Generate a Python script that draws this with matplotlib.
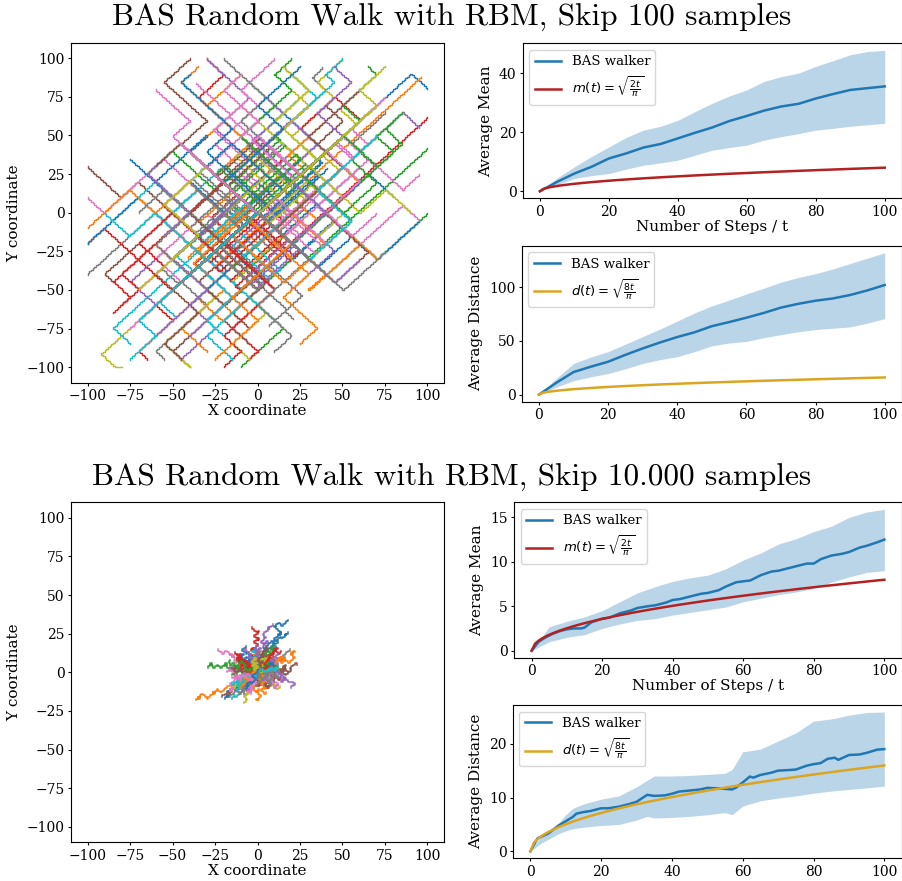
import numpy as np
import matplotlib.pyplot as plt

plt.rcParams['font.family'] = 'DejaVu Serif'
plt.rcParams['mathtext.fontset'] = 'dejavusans'
plt.rcParams['xtick.labelsize'] = 10
plt.rcParams['ytick.labelsize'] = 10
plt.rcParams['xtick.major.size'] = 2.5
plt.rcParams['ytick.major.size'] = 2.5
plt.rcParams['xtick.major.pad'] = 2
plt.rcParams['ytick.major.pad'] = 2

# ---- walks, skip 100 samples: corner points of each path ----
top_walks = [
    [(0,0),(90,90),(100,80)], [(0,0),(4,-4),(96,88)], [(0,0),(29,-29),(100,42)],
    [(0,0),(19,-19),(100,62)], [(0,0),(50,50),(60,40),(85,65),(95,55)],
    [(0,0),(-20,20),(-45,-5),(-70,20),(-80,10),(-100,30)],
    [(0,0),(-10,-10),(-55,35),(-90,0),(-100,10)], [(0,0),(-30,-30),(-60,0),(-100,-40)],
    [(0,0),(-85,-85),(-92,-92),(-80,-100)], [(0,0),(-5,5),(-85,-75),(-75,-85)],
    [(0,0),(20,20),(45,-5),(5,-45),(-10,-30)], [(0,0),(-15,-15),(10,-40),(-20,-70),(-35,-55),(-48,-68)],
    [(0,0),(30,-30),(50,-10),(70,-30),(100,0)], [(0,0),(-25,25),(-5,45),(-35,75),(-20,90),(-30,100)],
    [(0,0),(15,15),(-25,55),(-5,75),(-30,100)], [(0,0),(-45,45),(-30,60),(-55,85),(-40,100)],
    [(0,0),(10,10),(-25,45),(0,70),(-10,80),(10,100)], [(0,0),(25,25),(5,45),(40,80),(32,88),(38,94)],
    [(0,0),(35,35),(20,50),(45,75),(35,85),(50,100)], [(0,0),(-10,-10),(25,25),(0,50),(25,75)],
    [(0,0),(40,-40),(60,-20),(70,-30),(90,-10),(95,-5)], [(0,0),(-40,40),(-20,60),(-45,85),(-35,95)],
    [(0,0),(25,-25),(-5,-55),(15,-75),(-10,-100)], [(0,0),(-20,-20),(10,-50),(-15,-75),(0,-90),(-5,-95)],
    [(0,0),(10,-10),(-40,-60),(-25,-75),(-45,-95)], [(0,0),(-35,-35),(-15,-55),(-50,-90),(-40,-100)],
    [(0,0),(25,-25),(45,-5),(60,-20),(85,5),(95,-5)], [(0,0),(30,30),(15,45),(-20,10),(-5,-5),(-25,-25)],
    [(0,0),(-25,-25),(-10,-40),(30,0),(15,15),(30,30)], [(0,0),(20,-20),(45,5),(25,25),(0,0),(-15,15)],
    [(0,0),(-30,-30),(-10,-50),(20,-20),(0,0),(25,25)], [(0,0),(15,15),(35,-5),(60,20),(40,40),(55,55)],
    [(0,0),(-20,20),(-40,0),(-20,-20),(-40,-40),(-25,-55)], [(0,0),(40,40),(25,55),(45,75),(60,60),(70,70)],
    [(0,0),(-40,-40),(-55,-25),(-75,-45),(-60,-60),(-70,-70)], [(0,0),(10,-10),(35,15),(20,30),(50,60),(40,70)],
    [(0,0),(-15,-15),(-30,0),(-60,-30),(-45,-45),(-75,-75)], [(0,0),(25,25),(45,5),(70,30),(55,45),(75,65)],
    [(0,0),(-10,10),(20,40),(5,55),(30,80),(15,95)], [(0,0),(5,5),(-20,30),(-45,5),(-60,20),(-85,-5)],
    [(0,0),(-5,-5),(20,-30),(45,-5),(35,5),(60,30)], [(0,0),(-35,-35),(-20,-50),(-45,-75),(-30,-90)],
    [(0,0),(20,20),(0,40),(-25,15),(-50,40),(-65,25)], [(0,0),(-20,-20),(-5,-35),(25,-5),(10,10),(35,35)],
    [(0,0),(30,30),(50,10),(30,-10),(45,-25),(20,-50)], [(0,0),(-10,-10),(-35,15),(-60,-10),(-90,-40),(-85,-45)],
    [(0,0),(45,45),(55,35),(65,45),(55,55),(75,75)], [(0,0),(-45,-45),(-30,-60),(-60,-90),(-55,-95)],
    [(0,0),(15,-15),(-15,-45),(5,-65),(-15,-85),(-5,-95)], [(0,0),(-5,5),(25,35),(10,50),(35,75),(20,90)],
    [(0,0),(35,-35),(55,-15),(40,0),(65,25),(80,10)], [(0,0),(-25,25),(-5,45),(-30,70),(-10,90)],
    [(0,0),(20,20),(-10,50),(10,70),(-5,85)], [(0,0),(-30,-30),(-50,-10),(-70,-30),(-90,-10),(-100,-20)],
    [(0,0),(10,10),(-30,-30),(-10,-50),(-40,-80)], [(0,0),(-20,-20),(5,-45),(-20,-70),(-5,-85)],
    [(0,0),(25,25),(40,10),(65,35),(85,15),(95,25)], [(0,0),(-15,15),(10,40),(-10,60),(5,75),(-20,100)],
    [(0,0),(-40,-40),(-25,-55),(-55,-85),(-40,-100)], [(0,0),(40,40),(20,60),(45,85),(40,90),(50,100)],
    [(0,0),(10,10),(0,20),(15,35),(5,45),(20,60),(10,70)], [(0,0),(-10,-10),(0,-20),(-15,-35),(-5,-45),(-20,-60),(-10,-70)],
    [(0,0),(12,-12),(27,3),(17,13),(37,33),(27,43)], [(0,0),(-12,12),(-27,-3),(-17,-13),(-37,-33),(-27,-43)],
    [(0,0),(20,20),(10,30),(30,50),(20,60),(0,40),(-10,50)], [(0,0),(-20,-20),(-10,-30),(-30,-50),(-20,-60),(0,-40),(10,-50)],
    [(0,0),(5,5),(25,-15),(40,0),(30,10),(50,30)], [(0,0),(-5,-5),(-25,15),(-40,0),(-30,-10),(-50,-30)],
    [(0,0),(30,30),(40,20),(20,0),(35,-15),(55,5)], [(0,0),(-30,-30),(-40,-20),(-20,0),(-35,15),(-55,-5)],
    [(0,0),(-20,20),(-50,-10),(-70,10),(-100,-20)], [(0,0),(-10,-10),(-40,20),(-60,0),(-75,15),(-100,-10)],
    [(0,0),(15,15),(5,25),(-15,5),(-5,-5),(-25,-25),(-15,-35),(5,-15),(-5,-5)],
    [(0,0),(-15,-15),(-5,-25),(15,-5),(5,5),(25,25),(15,35),(-5,15),(5,5)],
    [(0,0),(20,-20),(30,-10),(10,10),(20,20),(0,40),(10,50)], [(0,0),(-20,20),(-30,10),(-10,-10),(-20,-20),(0,-40),(-10,-50)],
    [(0,0),(8,8),(-12,28),(3,43),(-17,63),(-7,73)], [(0,0),(-8,-8),(12,-28),(-3,-43),(17,-63),(7,-73)],
    [(0,0),(18,18),(28,8),(48,28),(38,38),(58,58),(48,68)], [(0,0),(-18,-18),(-28,-8),(-48,-28),(-38,-38),(-58,-58),(-48,-68)],
    [(0,0),(-6,6),(14,26),(24,16),(4,-4),(14,-14),(34,6)], [(0,0),(6,-6),(-14,-26),(-24,-16),(-4,4),(-14,14),(-34,-6)],
    [(0,0),(25,25),(35,15),(10,-10),(20,-20),(45,5),(55,-5)], [(0,0),(-25,-25),(-35,-15),(-10,10),(-20,20),(-45,-5),(-55,5)],
    [(0,0),(10,-10),(30,10),(15,25),(35,45),(20,60),(30,70)], [(0,0),(-10,10),(-30,-10),(-15,-25),(-35,-45),(-20,-60),(-30,-70)],
    [(0,0),(4,4),(-16,24),(-6,34),(-26,54),(-16,64),(-36,84)], [(0,0),(-4,-4),(16,-24),(6,-34),(26,-54),(16,-64),(21,-69)],
    [(0,0),(30,30),(10,50),(30,70),(20,80)], [(0,0),(-30,-30),(-10,-50),(-30,-70),(-20,-80)],
    [(0,0),(12,12),(2,22),(-18,2),(-8,-8),(-28,-28),(-18,-38),(-38,-58)],
    [(0,0),(-12,-12),(-2,-22),(18,-2),(8,8),(28,28),(18,38),(38,58)],
    [(0,0),(20,20),(30,10),(50,30),(60,20),(80,40),(70,50)], [(0,0),(-20,-20),(-30,-10),(-50,-30),(-60,-20),(-80,-40),(-70,-50)],
    [(0,0),(-10,10),(10,30),(-5,45),(15,65),(5,75)], [(0,0),(10,-10),(-10,-30),(5,-45),(-15,-65),(-5,-75)],
    [(0,0),(6,6),(16,-4),(36,16),(26,26),(46,46),(56,36)], [(0,0),(-6,-6),(-16,4),(-36,-16),(-26,-26),(-46,-46),(-56,-36)],
    [(0,0),(15,15),(-5,35),(10,50),(-10,70)], [(0,0),(-15,-15),(5,-35),(-10,-50),(10,-70)],
    # hairpin sweeps through the centre
    [(0,0),(30,30),(33,27),(3,-3),(6,-6),(36,24)], [(0,0),(-30,-30),(-33,-27),(-3,3),(-6,6),(-36,-24)],
    [(0,0),(-25,25),(-22,28),(3,3),(6,6),(-19,31)], [(0,0),(25,-25),(22,-28),(-3,-3),(-6,-6),(19,-31)],
    [(0,0),(10,10),(-20,-20),(-17,-23),(13,7),(16,4),(-14,-26)], [(0,0),(-10,-10),(20,20),(17,23),(-13,-7),(-16,-4),(14,26)],
    [(0,0),(15,-15),(40,10),(37,13),(12,-12),(9,-9),(34,16)], [(0,0),(-15,15),(-40,-10),(-37,-13),(-12,12),(-9,9),(-34,-16)],
    [(0,0),(20,20),(15,25),(-15,-5),(-20,0),(10,30)], [(0,0),(-20,-20),(-15,-25),(15,5),(20,0),(-10,-30)],
    [(0,0),(5,-5),(35,25),(30,30),(0,0),(-5,5),(25,35)], [(0,0),(-5,5),(-35,-25),(-30,-30),(0,0),(5,-5),(-25,-35)],
    [(0,0),(-20,20),(10,50),(13,47),(-17,17),(-14,14),(16,44)], [(0,0),(20,-20),(-10,-50),(-13,-47),(17,-17),(14,-14),(-16,-44)],
    [(0,0),(25,25),(0,50),(-3,47),(22,22),(19,19),(-6,44)], [(0,0),(-25,-25),(0,-50),(3,-47),(-22,-22),(-19,-19),(6,-44)],
    [(0,0),(30,-30),(34,-26),(4,4),(8,8),(38,-22)], [(0,0),(-30,30),(-34,26),(-4,-4),(-8,-8),(-38,22)],
    [(0,0),(12,12),(-13,37),(-10,40),(15,15),(18,18),(-7,43)], [(0,0),(-12,-12),(13,-37),(10,-40),(-15,-15),(-18,-18),(7,-43)],
    [(0,0),(35,35),(38,32),(8,2),(11,-1),(41,29)], [(0,0),(-35,-35),(-38,-32),(-8,-2),(-11,1),(-41,-29)],
    [(0,0),(-8,8),(22,38),(25,35),(-5,5),(-2,2),(28,32)], [(0,0),(8,-8),(-22,-38),(-25,-35),(5,-5),(2,-2),(-28,-32)],
    [(0,0),(18,-18),(-7,-43),(-4,-46),(21,-21),(24,-24),(-1,-49)], [(0,0),(-18,18),(7,43),(4,46),(-21,21),(-24,24),(1,49)],
    [(0,0),(22,22),(-3,47),(0,50),(25,25),(28,22),(3,47)], [(0,0),(-22,-22),(3,-47),(0,-50),(-25,-25),(-28,-22),(-3,-47)],
    [(0,0),(10,-10),(35,15),(32,18),(7,-7),(4,-4),(29,21)], [(0,0),(-10,10),(-35,-15),(-32,-18),(-7,7),(-4,4),(-29,-21)],
    # mid-range walks
    [(0,0),(-40,40),(-30,50),(-60,20),(-50,10),(-75,35)], [(0,0),(40,-40),(30,-50),(60,-20),(50,-10),(70,-30)],
    [(0,0),(20,20),(-10,50),(20,80),(10,90),(20,100)], [(0,0),(-20,-20),(10,-50),(-20,-80),(-10,-90),(-20,-100)],
    [(0,0),(50,50),(35,65),(55,85),(45,95)], [(0,0),(-50,-50),(-35,-65),(-55,-85),(-45,-95)],
    [(0,0),(-30,30),(0,60),(-20,80),(-10,90)], [(0,0),(30,-30),(0,-60),(20,-80),(10,-90)],
    [(0,0),(30,30),(60,0),(75,15),(90,0)], [(0,0),(-30,-30),(-60,0),(-75,-15),(-90,0)],
    [(0,0),(15,15),(-15,45),(-40,20),(-20,0),(-45,-25)], [(0,0),(-15,-15),(15,-45),(40,-20),(20,0),(45,25)],
    [(0,0),(25,25),(50,0),(70,20),(55,35),(80,60)], [(0,0),(-25,-25),(-50,0),(-70,-20),(-55,-35),(-80,-60)],
    [(0,0),(-45,45),(-65,25),(-40,0),(-55,-15)], [(0,0),(45,-45),(65,-25),(40,0),(55,15)],
    [(0,0),(10,10),(40,-20),(55,-5),(35,15),(60,40),(50,50)], [(0,0),(-10,-10),(-40,20),(-55,5),(-35,-15),(-60,-40),(-50,-50)],
    [(0,0),(35,35),(10,60),(30,80),(15,95)], [(0,0),(-35,-35),(-10,-60),(-30,-80),(-15,-95)],
    [(0,0),(-20,20),(15,55),(0,70),(25,95)], [(0,0),(20,-20),(-15,-55),(0,-70),(-25,-95)],
    [(0,0),(60,60),(50,70),(70,90),(65,95)], [(0,0),(-60,-60),(-50,-70),(-70,-90),(-65,-95)],
    [(0,0),(-10,10),(-50,-30),(-30,-50),(-60,-80)], [(0,0),(10,-10),(50,30),(30,50),(60,80)],
    [(0,0),(40,40),(60,20),(40,0),(55,-15),(70,0)], [(0,0),(-40,-40),(-60,-20),(-40,0),(-55,15),(-70,0)],
    [(0,0),(-30,30),(-55,5),(-35,-15),(-70,-50)], [(0,0),(30,-30),(55,-5),(35,15),(70,50)],
    [(0,0),(5,5),(-30,40),(-15,55),(-45,85),(-40,90)], [(0,0),(-5,-5),(30,-40),(15,-55),(35,-75),(25,-85)],
    [(0,0),(50,50),(70,30),(85,45),(75,55),(85,65)], [(0,0),(-50,-50),(-70,-30),(-85,-45),(-75,-55),(-85,-65)],
    [(0,0),(20,20),(40,0),(20,-20),(45,-45),(60,-30)], [(0,0),(-20,-20),(-40,0),(-20,20),(-45,45),(-60,30)],
    [(0,0),(-25,25),(-50,50),(-40,60),(-60,80)], [(0,0),(25,-25),(50,-50),(60,-40),(75,-25)],
    [(0,0),(70,70),(60,80),(75,95)], [(0,0),(-70,-70),(-60,-80),(-75,-95)],
]

# ---- walks, skip 10.000 samples: move letter + number of steps ----
# e=NE q=NW z=SW c=SE w=N x=S a=W d=E
bottom_walks = [
    "e3q2c1e4z2q3e2c2e5q1z1e3q2e4c1e3z1e2", "z3q2z4c1z3q2z2a2z4q2z3e1z4q3z3e1z2",
    "q3z2q2e1z3q3c1z2q2z1q3e1z3q2z2q3c1z2", "q2e3q3z1e2q2c1e3q3z2e4q2e2c1q3e3z1q3",
    "e2q3e3z1q2e4c1e2q3e3z2q2e3q2e4z1e3", "e3c2e2z1c3e3q1c2e4z2c3e2q1e3c1",
    "q3z2q4e2q3c1z3q2e1q3c2q4z2q3", "e4c2q1e3z2e2c3q2e4z1c1e3q1e4",
    "z3c2q1z4e1c3z2q2z3c2e2z3c2z2", "z3q2c3z2e1z4q2z3c1e2z3c2z2q1z2",
    "z4c1z3q2z2e1z3a2z3q1c2z2e1z2", "c3z2e1z3c2q1z3c2e2z2c3z2q1c1",
    "c2e3z2c3q2e2z3c2e1c2q1z2", "e2c3z1c2e3q1c3z2e2c2q1e1c1",
    "e3c2q1e2z1e3c2e2q2z2e3c2e2", "e2c3e3c2z1e2q1c3e3z2c2e2",
    "q2z3q2e1z2q3c1z3q2e2z2q1z2", "q3z2e2q2z3q2c1z2q3e1z2q1",
    "c3e2c2z2c3e1c2q1z1c2e2", "q2e3q2z2e2q3c1e3q2z1e2",
    "e2q2z3c2e1q3z2c1e2q1z2c2e3q2z1", "z2q1c2z3e2q2z2c1z2e1q1z1c1",
    "e3c2e1q1c2e2z1c1e3q2z1e1", "z2c2e1z2c3q1z2e2c1z1",
    "q2e2z1q1e3c2q2e1z2q1e1", "z3c1e1z2q1z2c2e1z3c1",
    "z2q2z2c1e2z3c2q1z2", "e2q3e2z1q2e2c1q2e3",
    "c2e3c1z1e2c2q1e3c1", "c3e1c2z2e2c2q1c1e1",
    "q3e1q2z2q2e1z2q1c1", "q3e2q2e2z1q2e3c1q1e2",
    "z2q3z2a1q2z3c1q2z1", "z3c1z2q2z3e1c2z2",
    "z4c2z3e1c1z3q1z2c1", "z2c2z3q1e1z2c1z2",
    "e2c2q1e1c2z1c1e1", "e3c1e2q1z1e2c2e2",
    "e3q2e3z1q1e2q1e3c1e2", "e2c2z2q2e1c1z1q1e1",
    "e4q2z2e4c2e2q4z2e2c2e4q2e2z4q2e4c2e2q2e4z2e2q4e2c2e4",
    "e2c4e2q2z2e4c2q2e2z2e4c2e2q2z2e2c4e4q2e2z2",
    "q2e4c2z2e2q2e4z2c2e2q4e2c2z2e4q2e2", "e4z2q2e2c2e4q2z2e2c2e2q2e4z2c2e2",
    "c2e2q2e4z2c2e2q2e2z4e4c2q2e4",
    "z2c1q1z2e1z1c1z2q1a1z1e1z2c1q1z2x1z1q2z1e1z2c1z1q1z2a1z1",
    "z2q4z2c2e2z4q2z2c2z2e2q2z4c2z2e2z2", "c2z4q2z2e2z2c2z4q2e2z2c2z2q2z4",
    "z4e2q2z2c2z2q2z4e2c2z2q2z2e2z2", "q2z2c2z4e2q2z2c2z2e2z4q2c2z2",
    "q4e2z2c2q2e2q2z4c2q2e4q2z2c2q4e2z2q2", "q2c2z2q2e2q2z2c2q4e2z2q2c2z2q2e2q2",
    "z2q4e2q2c2z2q2e2q4z2c2q2e2q2", "q2z2e2q4c2q2z2e2q2c2q4z2e2",
    "c2e2q2c4z2e2c2q2e4c2z2c2e2q2c4z2e2c2d2c2z2", "c2z2e2c2q2z2c2e2z2c4q2e2z2c2e2z2",
    "c4e2z2c2q2e2c2z2c2e2q2c4z2e2", "e2c2z2c2q2c2e2z2c4q2e2c2",
    "e3q2c2z2e3q2z2c2e2q3z2c2e2z2q2e3c3q2e2z2e2q2", "z2c2q2e2z3q2c2z2e2q2z2c3z2q2e2z2c2q2z3e2",
    "e2c2z2q2e2c3e2q2z2e2c2q2e3z2c2e2q2c2", "z2q2e2z2c2z3q2e2c2z2q2z2e2c2z3q2c2z2",
    "e3z2q2e2c2z2e2q2c2e3z2q2c2e2z2e2q2e2", "q2c2z2q2e2q2z2c2q3e2z2q2c2z2q2e2q2",
    "c1z1e1c1q1z1c1e1z1c2q1e1z1c1e1z1", "e1q2z1e1c1q1z1e2q1c1z1q1e1q1z1e1",
    "z2e1c1z1q1z1e1c1z2q1e1z1c1z1q1", "q1e1c1q1z1e1q1c1q1e1z1q2c1e1q1",
    "c1e2q1c1z1e1c1q1e1c1z1e1q1c1e1", "z1c1e1q1z1c1z1e1q1z1c1z1q1e1z1",
    "e1q1e1c1z1q1e1q1c1e1z1q1e1c1q1e1", "q1z1c1q1z1e1q1z1q1c1z1q1e1q1z1",
    "c1z1e1c1z1q1c1e1z1c1q1z1c1e1",
    # walks drifting to the rim of the cloud
    "q3z2q2e2c1q3z2e1q2c1q3e2z1q2", "e2q2c1e2q3z1e2q2e1c1q2e3z2q2e2",
    "q2z3q2e1z2q3c1z2q2e2z2q1", "z3c2q1z2e1c2z3q1c2z2e2z2c1",
    "c2e3z1c2q1e2c3z2e2c2q1e1", "e3q2e2c1z2e3q1e2c1z1e2",
    "z3q2z2e1q1z3c2z2q2e1z3q1", "q3e2q2z1e2q3c1e1q2z1q3e2",
    "c3z2c2e1z2c3q1z2c2e1", "q3z2q3e1q2z3c1q3z1q2e1",
    "e3c1e2q2e3z1e2q1e2c1", "q2e2q3z1e2q2c1q2e1q3z1",
    "e3q2e2z1q2e3c1q2e2z1e3q1", "z3q2z2c1q2z3e1q2z2q1",
    "c2z2e1c2z2q1c1z2", "q2e2z1q2e1c1q2e2z1",
    "e2c2e3c1z1e2c2q1e2", "z3c2z2q1z3e1c1z2",
]

# ---- summary curves ----
t_top = [0, 5, 10, 15, 20, 25, 30, 35, 40, 45, 50, 55, 60, 65, 70, 75, 80, 85, 90, 95, 100]
mean_top = [0, 3.2, 6.0, 8.3, 11.1, 12.8, 14.8, 16.0, 17.9, 19.8, 21.6, 23.8, 25.5, 27.3, 28.7, 29.6, 31.4, 32.9, 34.3, 34.9, 35.5]
mean_top_hi = [0, 4.5, 8.3, 11.8, 15, 18.2, 20.7, 22, 24, 27, 29.8, 32.3, 34.3, 37.2, 38.8, 40, 42.3, 44.2, 46.2, 47.3, 47.7]
mean_top_lo = [0, 2.2, 4.3, 5.3, 6.0, 7.5, 8.8, 9.6, 10.5, 12.2, 13.9, 14.8, 15.6, 17.3, 18.5, 19.5, 20.7, 21.3, 22, 22.5, 23]
dist_top = [0, 11, 21, 26, 30.6, 37, 43, 48.5, 53.6, 58, 63.7, 67.5, 71.6, 76, 81, 84.5, 87.4, 89.5, 92.7, 97, 102]
dist_top_hi = [0, 15, 29, 35, 40, 47, 54, 61, 68.5, 76, 82.6, 88, 93.7, 99, 104.7, 109, 112.6, 117, 122, 127, 132]
dist_top_lo = [0, 7, 13, 16.5, 19.6, 24, 29, 32.5, 35.3, 40, 45.4, 48, 49.5, 53, 55.8, 58.5, 60.5, 61.8, 63, 66.5, 70.7]

t_mean_bot = [0, 2, 4, 6, 8, 10, 12, 14, 15, 17, 20, 22, 25, 28, 30, 33, 35, 38, 40, 42, 45, 48, 50,
              53, 55, 58, 60, 62, 65, 68, 70, 73, 75, 78, 80, 82, 85, 88, 90, 93, 95, 98, 100]
mean_bot = [0, 1.0, 1.5, 1.9, 2.2, 2.4, 2.5, 2.5, 2.6, 3.2, 3.6, 3.7, 4.2, 4.5, 4.8, 5.0, 5.1, 5.4, 5.7, 5.8,
            6.1, 6.4, 6.5, 6.8, 7.2, 7.7, 7.8, 7.9, 8.5, 8.9, 9.0, 9.3, 9.5, 9.8, 9.8, 10.3, 10.7, 10.9,
            11.1, 11.6, 11.8, 12.2, 12.5]
mean_bot_hi = [0, 2.7, 3.3, 3.8, 4.5, 5.5, 6.5, 7.2, 7.8, 8.2, 8.5, 9.2, 10.2, 11, 12, 12.6, 13.4, 14, 15, 15.6, 15.9]
mean_bot_lo = [0, 1.0, 1.5, 1.8, 2.5, 3.0, 3.4, 3.6, 4.0, 4.3, 4.6, 4.9, 5.5, 5.9, 6.3, 6.6, 7.0, 7.7, 8.3, 8.8, 9.0]

t_dist_bot = [0, 2, 5, 8, 10, 12, 13, 15, 17, 20, 22, 25, 28, 30, 33, 35, 38, 40, 42, 45, 48, 50, 53, 55,
              57, 58, 60, 62, 63, 65, 68, 70, 73, 75, 78, 80, 82, 84, 86, 87, 90, 93, 95, 98, 100]
dist_bot = [0, 2.4, 3.3, 4.8, 5.6, 6.4, 7.0, 7.3, 7.5, 8.0, 8.0, 8.3, 8.8, 9.2, 10.5, 10.3, 10.4, 10.7, 11.1,
            11.3, 11.5, 11.8, 11.7, 11.6, 11.5, 11.8, 12.8, 13.9, 13.7, 14.2, 14.6, 15.0, 15.1, 15.2, 15.9,
            16.2, 16.4, 17.2, 17.4, 17.0, 17.9, 18.0, 18.3, 18.9, 19.0]
t_band_bot = [0, 3, 5, 8, 10, 12, 15, 20, 25, 30, 33, 35, 40, 45, 50, 55, 57, 60, 65, 70, 75, 80, 85, 90, 95, 100]
dist_bot_hi = [0, 2.8, 3.8, 5.3, 6.8, 8.0, 8.8, 9.7, 10.3, 12.0, 13.2, 14.0, 14.0, 14.1, 14.3, 14.5, 15.2,
               18.5, 19.0, 20.5, 22.0, 24.2, 24.6, 25.3, 25.8, 25.9]
dist_bot_lo = [0, 1.5, 2.2, 3.3, 3.8, 4.2, 4.5, 4.8, 5.0, 5.8, 6.5, 6.2, 6.3, 6.5, 6.8, 7.2, 6.8, 8.4, 9.4,
               9.9, 10.3, 10.8, 11.2, 11.5, 11.8, 12.1]

MOVES = {'e': (1, 1), 'q': (-1, 1), 'z': (-1, -1), 'c': (1, -1),
         'w': (0, 1), 'x': (0, -1), 'a': (-1, 0), 'd': (1, 0)}


def unit_step(xs, ys, sx, sy):
    # diagonal steps drawn as a small stair: x first, then y
    if sx:
        xs.append(xs[-1] + sx); ys.append(ys[-1])
    if sy:
        xs.append(xs[-1]); ys.append(ys[-1] + sy)


def path_from_corners(corners):
    xs, ys = [corners[0][0]], [corners[0][1]]
    for nx, ny in corners[1:]:
        while xs[-1] != nx or ys[-1] != ny:
            unit_step(xs, ys, int(np.sign(nx - xs[-1])), int(np.sign(ny - ys[-1])))
    return xs, ys


def path_from_moves(code):
    xs, ys = [0], [0]
    i = 0
    while i < len(code):
        m = code[i]
        j = i + 1
        while j < len(code) and code[j].isdigit():
            j += 1
        n = int(code[i + 1:j]) if j > i + 1 else 1
        for _ in range(n):
            unit_step(xs, ys, *MOVES[m])
        i = j
    return xs, ys


def walk_axes(ax, paths, lw=1.0):
    for xs, ys in paths:
        ax.plot(xs, ys, lw=lw)
    ax.set_xlim(-110, 110)
    ax.set_ylim(-110, 110)
    ax.set_xticks(range(-100, 101, 25))
    ax.set_yticks(range(-100, 101, 25))
    ax.set_xlabel('X coordinate', fontsize=11, labelpad=1)
    ax.set_ylabel('Y coordinate', fontsize=11)


def stat_axes(ax, t, y, t_band, lo, hi, theo, theo_label, color, ylabel, xlabel=None):
    ax.plot(t, y, color='tab:blue', lw=1.8, label='BAS walker')
    ax.fill_between(t_band, lo, hi, color='tab:blue', alpha=0.3, lw=0)
    ts = np.arange(0, 101)
    ax.plot(ts, theo(ts), color=color, lw=1.8, label=theo_label)
    ax.set_ylabel(ylabel, fontsize=11)
    if xlabel:
        ax.set_xlabel(xlabel, fontsize=11, labelpad=1)
    ax.legend(loc='upper left', fontsize=9.5)


fig = plt.figure(figsize=(9.03, 8.81), dpi=100)
W, H = 903.0, 881.0


def rect(l, t, r, b):
    return [l / W, 1 - b / H, (r - l) / W, (b - t) / H]


mean_th = lambda t: np.sqrt(2 * t / np.pi)
dist_th = lambda t: np.sqrt(8 * t / np.pi)
m_lab = r'$m(t) = \sqrt{\frac{2t}{\pi}}$'
d_lab = r'$d(t) = \sqrt{\frac{8t}{\pi}}$'

ax = fig.add_axes(rect(70.7, 42.7, 444.3, 382.7))
walk_axes(ax, [path_from_corners(w) for w in top_walks])
ax = fig.add_axes(rect(522.7, 43.3, 902, 198.3))
stat_axes(ax, t_top, mean_top, t_top, mean_top_lo, mean_top_hi, mean_th, m_lab,
          '#b22222', 'Average Mean', 'Number of Steps / t')
ax = fig.add_axes(rect(521.7, 245.7, 902, 401.7))
stat_axes(ax, t_top, dist_top, t_top, dist_top_lo, dist_top_hi, dist_th, d_lab,
          '#daa520', 'Average Distance')

ax = fig.add_axes(rect(70.7, 502.3, 444.3, 842.3))
walk_axes(ax, [path_from_moves(w) for w in bottom_walks], lw=1.1)
ax = fig.add_axes(rect(514, 502.3, 902, 657.7))
stat_axes(ax, t_mean_bot, mean_bot, t_top, mean_bot_lo, mean_bot_hi, mean_th, m_lab,
          '#b22222', 'Average Mean', 'Number of Steps / t')
ax = fig.add_axes(rect(512.7, 705, 902, 858.3))
stat_axes(ax, t_dist_bot, dist_bot, t_band_bot, dist_bot_lo, dist_bot_hi, dist_th, d_lab,
          '#daa520', 'Average Distance')

fig.text(0.5, 1 - 18 / H, 'BAS Random Walk with RBM, Skip 100 samples',
         ha='center', va='center', fontsize=22.5, family='cmr10')
fig.text(0.5, 1 - 478 / H, 'BAS Random Walk with RBM, Skip 10.000 samples',
         ha='center', va='center', fontsize=22.5, family='cmr10')

fig.savefig('out.png', dpi=100)
